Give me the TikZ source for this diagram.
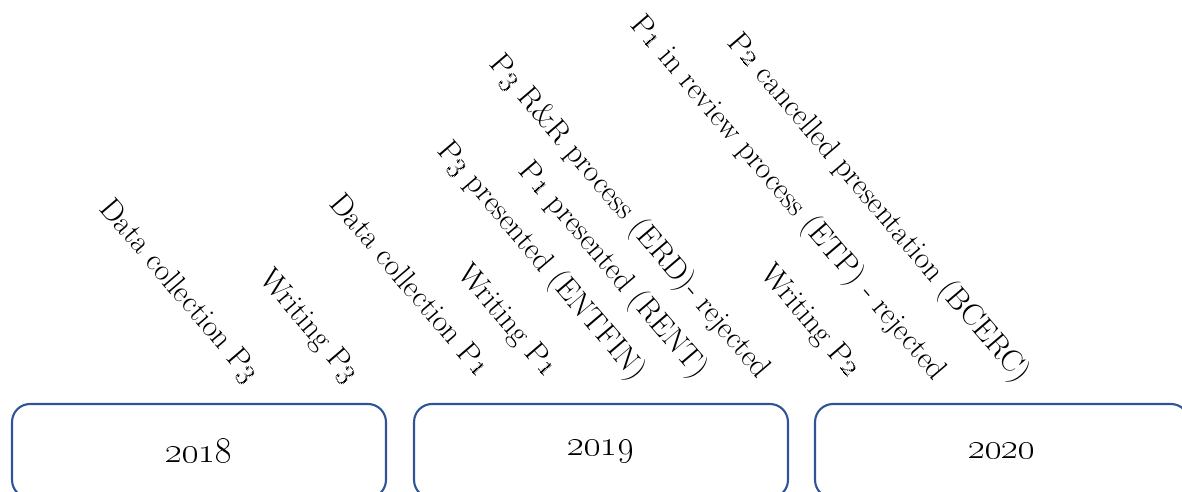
\documentclass[tikz,border=0pt]{standalone}
\usepackage{tikz}
\definecolor{boxblue}{RGB}{47,85,151}

\begin{document}
\begin{tikzpicture}[x=0.02cm, y=0.02cm,
    yearbox/.style={draw=boxblue, line width=1.2pt, rounded corners=0.36cm,
      minimum width=7.48cm, minimum height=1.88cm,
      font=\fontsize{20}{24}\selectfont},
    lbl/.style={rotate=-49.5, anchor=base east, inner sep=0pt,
      font=\fontsize{17.6}{21}\selectfont}]
  \useasboundingbox (0,0) rectangle (1182,492);
  \clip (0,0) rectangle (1182,492);
  % years
  \node [yearbox] (y2018) at (199,41) {\oldstylenums{2018}};
  \node [yearbox] (y2019) at (601,41) {\oldstylenums{2019}};
  \node [yearbox] (y2020) at (1002,41) {\oldstylenums{2020}};
  % events
  \node [lbl] (dcP3) at (248,108) {Data collection P\oldstylenums{3}};
  \node [lbl] (wrP3) at (348,108) {Writing P\oldstylenums{3}};
  \node [lbl] (dcP1) at (478,113) {Data collection P\oldstylenums{1}};
  \node [lbl] (wrP1) at (546,113) {Writing P\oldstylenums{1}};
  \node [lbl] (prP3) at (634,110) {P\oldstylenums{3} presented (ENTFIN)};
  \node [lbl] (prP1) at (696,112) {P\oldstylenums{1} presented (RENT)};
  \node [lbl] (rrP3) at (758,112) {P\oldstylenums{3} R\&R process (ERD)- rejected};
  \node [lbl] (wrP2) at (849,113) {Writing P\oldstylenums{2}};
  \node [lbl] (rvP1) at (934,110) {P\oldstylenums{1} in review process (ETP) - rejected};
  \node [lbl] (cnP2) at (1018,108) {P\oldstylenums{2} cancelled presentation (BCERC)};
\end{tikzpicture}
\end{document}
